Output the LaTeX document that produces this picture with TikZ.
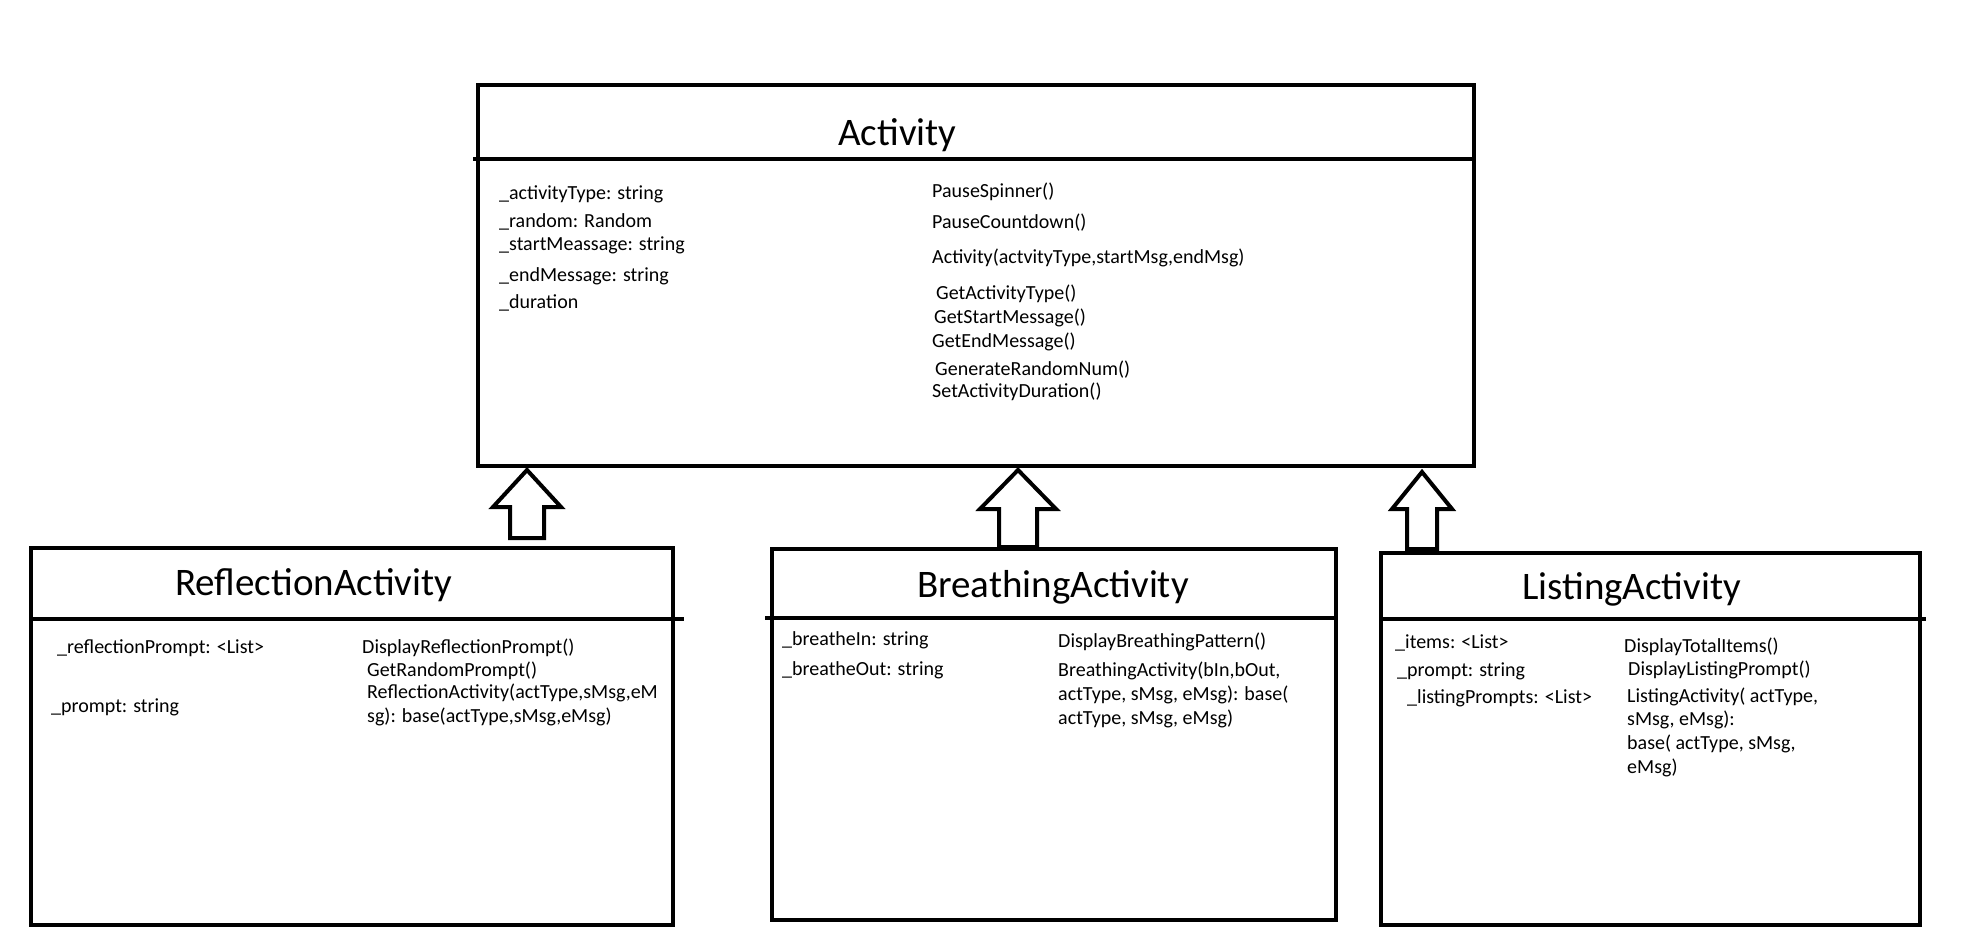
\documentclass[tikz,border=0pt]{standalone}
\usepackage{fontspec}
\setmainfont{Carlito}
\usetikzlibrary{calc}

\begin{document}
\begin{tikzpicture}[x=1pt, y=-1pt,
    classbox/.style={draw, line width=4pt, inner sep=0pt, anchor=north west},
    divider/.style={line width=4pt},
    classname/.style={anchor=base west, inner sep=0pt, font=\fontsize{39}{47}\selectfont},
    member/.style={anchor=base west, inner sep=0pt, font=\fontsize{20}{24}\selectfont},
    genarrow/.style={line width=4pt, fill=white}]
  \useasboundingbox (0,0) rectangle (1972,928);

  % class boxes
  \node[classbox, minimum width=996pt, minimum height=381pt] (activity) at (476,83) {};
  \node[classbox, minimum width=642pt, minimum height=377pt] (reflection) at (29,546) {};
  \node[classbox, minimum width=564pt, minimum height=371pt] (breathing) at (770,547) {};
  \node[classbox, minimum width=539pt, minimum height=372pt] (listing) at (1379,551) {};

  % dividers under the names
  \draw[divider] ($(activity.west |- 0,159)+(-3,0)$) -- (activity.east |- 0,159);
  \draw[divider] (reflection.west |- 0,619) -- ($(reflection.east |- 0,619)+(9,0)$);
  \draw[divider] ($(breathing.west |- 0,618)+(-5,0)$) -- (breathing.east |- 0,618);
  \draw[divider] (listing.west |- 0,619) -- ($(listing.east |- 0,619)+(4,0)$);

  % names
  \node[classname] (activity-name) at (838,146) {Activity};
  \node[classname] (reflection-name) at (175,595) {ReflectionActivity};
  \node[classname] (breathing-name) at (917,597) {BreathingActivity};
  \node[classname] (listing-name) at (1522,599) {ListingActivity};

  % Activity
  \foreach \y/\t [count=\i] in {200/{\_activityType: string}, 227/{\_random: Random},
      250/{\_startMeassage: string}, 281/{\_endMessage: string}, 308/{\_duration}}
    \node[member] (act-attr\i) at (499,\y) {\t};
  \foreach \x/\y/\t [count=\i] in {932/198/{PauseSpinner()}, 932/228/{PauseCountdown()},
      932/263/{Activity(actvityType,startMsg,endMsg)}, 936/299/{GetActivityType()},
      934/323/{GetStartMessage()}, 932/347/{GetEndMessage()},
      935/375/{GenerateRandomNum()}, 932/397/{SetActivityDuration()}}
    \node[member] (act-op\i) at (\x,\y) {\t};

  % ReflectionActivity
  \foreach \x/\y/\t [count=\i] in {57/653/{\_reflectionPrompt: <List>}, 51/712/{\_prompt: string}}
    \node[member] (ref-attr\i) at (\x,\y) {\t};
  \foreach \x/\y/\t [count=\i] in {362/653/{DisplayReflectionPrompt()}, 367/676/{GetRandomPrompt()},
      367/698/{ReflectionActivity(actType,sMsg,eM}, 367/722/{sg): base(actType,sMsg,eMsg)}}
    \node[member] (ref-op\i) at (\x,\y) {\t};

  % BreathingActivity
  \foreach \y/\t [count=\i] in {645/{\_breatheIn: string}, 675/{\_breatheOut: string}}
    \node[member] (bre-attr\i) at (782,\y) {\t};
  \foreach \y/\t [count=\i] in {647/{DisplayBreathingPattern()}, 676/{BreathingActivity(bIn,bOut,},
      700/{actType, sMsg, eMsg): base(}, 724/{actType, sMsg, eMsg)}}
    \node[member] (bre-op\i) at (1058,\y) {\t};

  % ListingActivity
  \foreach \x/\y/\t [count=\i] in {1395/648/{\_items: <List>}, 1397/676/{\_prompt: string},
      1407/703/{\_listingPrompts: <List>}}
    \node[member] (lst-attr\i) at (\x,\y) {\t};
  \foreach \x/\y/\t [count=\i] in {1624/652/{DisplayTotalItems()}, 1628/675/{DisplayListingPrompt()},
      1627/702/{ListingActivity( actType,}, 1627/725/{sMsg, eMsg):},
      1627/749/{base( actType, sMsg,}, 1627/773/{eMsg)}}
    \node[member] (lst-op\i) at (\x,\y) {\t};

  % inheritance arrows
  \coordinate (r-tip) at ($(activity.south -| 527,0)+(0,2)$);
  \coordinate (r-bot) at ($(reflection.north -| 527,0)+(0,-8)$);
  \coordinate (b-tip) at ($(activity.south -| 1018,0)+(0,2)$);
  \coordinate (b-bot) at (breathing.north -| 1018,0);
  \coordinate (l-tip) at ($(activity.south -| 1422,0)+(0,4)$);
  \coordinate (l-bot) at ($(listing.north -| 1422,0)+(0,-2)$);
  \foreach \n/\hw/\sw/\hd in {r/34/17/37, b/38/19/39, l/30/15/37}
    \draw[genarrow] (\n-tip) -- ++(\hw,\hd) -- ++(\sw-\hw,0) -- ($(\n-bot)+(\sw,0)$)
      -- ($(\n-bot)+(-\sw,0)$) -- ($(\n-tip)+(-\sw,\hd)$) -- ++(\sw-\hw,0) -- cycle;
\end{tikzpicture}
\end{document}
